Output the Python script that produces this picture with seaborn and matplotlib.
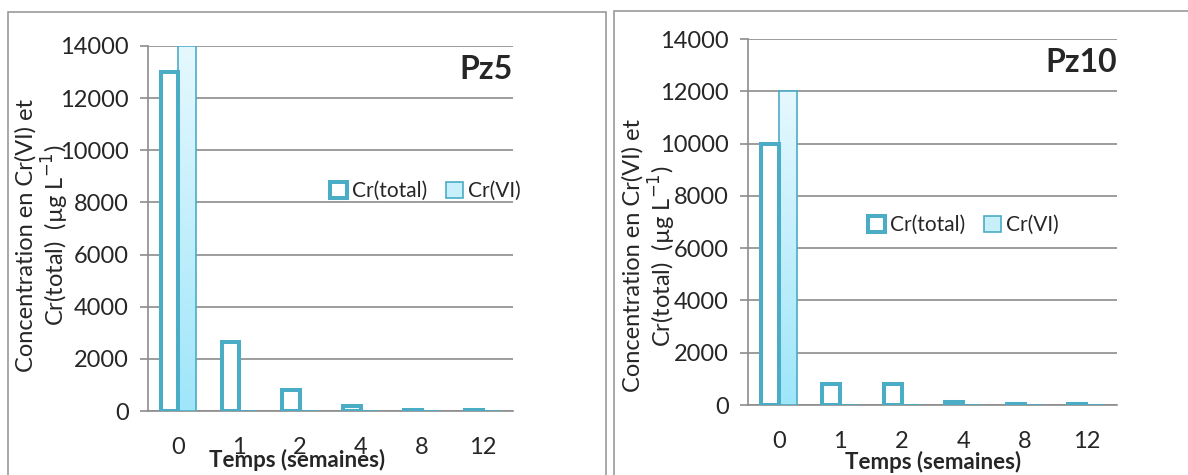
import numpy as np
import pandas as pd
import seaborn as sns
import matplotlib.pyplot as plt
from matplotlib.patches import Patch, Rectangle

weeks = ['0', '1', '2', '4', '8', '12']
series = ['Cr(total)', 'Cr(VI)']

pz5_total = [13000, 2650, 800, 200, 50, 30]
pz5_vi = [14000, 10, 10, 10, 10, 10]
pz10_total = [10000, 800, 800, 120, 50, 30]
pz10_vi = [12000, 10, 10, 10, 10, 10]

teal = '#4BACC6'
grid_col = '#8C8C8C'

sns.set_style('white')
plt.rcParams['font.family'] = ['Lato', 'DejaVu Sans']

fig = plt.figure(figsize=(11.88, 4.75), dpi=100)

# panel frames
fig.patches.append(Rectangle((8 / 1188, -0.1), 598 / 1188, 1 - 12 / 475 + 0.1,
                             transform=fig.transFigure, fill=False, ec='#999999', lw=1.2))
fig.patches.append(Rectangle((614 / 1188, -0.1), 600 / 1188, 1 - 11 / 475 + 0.1,
                             transform=fig.transFigure, fill=False, ec='#999999', lw=1.2))

ax1 = fig.add_axes([148 / 1188, 64 / 475, 365 / 1188, 365 / 475])
ax2 = fig.add_axes([748 / 1188, 70 / 475, 369 / 1188, 366 / 475])

grad = np.linspace(0, 1, 256).reshape(-1, 1)
cmap = plt.matplotlib.colors.LinearSegmentedColormap.from_list('g', ['#9FE6FA', '#E6F8FE'])


def draw(ax, total, vi, title, ylab_px, xlab_px, leg_xy):
    df = pd.DataFrame({
        'Temps': weeks * 2,
        'serie': [series[0]] * len(weeks) + [series[1]] * len(weeks),
        'val': total + vi,
    })
    sns.barplot(data=df, x='Temps', y='val', hue='serie', order=weeks, hue_order=series,
                width=0.58, palette=['white', '#C8F0FB'], legend=False, ax=ax, zorder=3)
    for p in ax.containers[0]:
        p.set_edgecolor(teal)
        p.set_linewidth(2.9)
        p.set_facecolor('white')
    for p in ax.containers[1]:
        p.set_edgecolor(teal)
        p.set_linewidth(1.2)
        p.set_facecolor('none')
        x, w, h = p.get_x(), p.get_width(), p.get_height()
        im = ax.imshow(grad, extent=[x, x + w, 0, h], origin='lower', aspect='auto',
                       cmap=cmap, zorder=2.9)
        im.set_clip_path(p)

    ax.set_xlim(-0.5, 5.5)
    ax.set_ylim(0, 14000)
    ax.set_yticks(np.arange(0, 14001, 2000))
    ax.set_xticks(range(6))
    ax.set_xticklabels(weeks)
    ax.set_xticks(np.arange(-0.5, 6, 1), minor=True)
    ax.tick_params(axis='x', which='major', length=0, labelsize=17, pad=19)
    ax.tick_params(axis='x', which='minor', length=8, width=1.2, color=grid_col, direction='out')
    ax.tick_params(axis='y', length=6, width=1.2, color=grid_col, direction='out',
                   labelsize=17, pad=8, left=True)
    ax.grid(axis='y', color=grid_col, lw=1.2, zorder=0)
    ax.set_axisbelow(True)
    for s in ['top', 'right']:
        ax.spines[s].set_visible(False)
    for s in ['left', 'bottom']:
        ax.spines[s].set_color(grid_col)
        ax.spines[s].set_linewidth(1.2)
    ax.set_xlabel('')
    ax.set_ylabel('')

    fig.text(ylab_px[0] / 1188, 1 - ylab_px[1] / 475,
             'Concentration en Cr(VI) et\nCr(total)  (µg L$^{-1}$)', rotation=90,
             ha='center', va='center', multialignment='center', fontsize=17,
             linespacing=1.1)
    fig.text(xlab_px[0] / 1188, 1 - xlab_px[1] / 475, 'Temps (semaines)',
             ha='center', va='center', fontsize=16, fontweight='bold')
    ax.text(1.0, 0.935, title, transform=ax.transAxes, ha='right', va='center',
            fontsize=23, fontweight='bold')

    handles = [Patch(facecolor='white', edgecolor=teal, lw=2.9),
               Patch(facecolor='#C8F0FB', edgecolor=teal, lw=1.2)]
    fig.legend(handles, series, loc='center left', bbox_to_anchor=leg_xy, ncol=2,
               frameon=False, fontsize=15, handlelength=0.8, handleheight=0.8,
               handletextpad=0.25, columnspacing=0.9, borderpad=0, borderaxespad=0)


draw(ax1, pz5_total, pz5_vi, 'Pz5', (43, 235), (297, 460), (330 / 1188, 1 - 191 / 475))
draw(ax2, pz10_total, pz10_vi, 'Pz10', (650, 256), (933, 462), (868 / 1188, 1 - 225 / 475))

fig.savefig('out.png', dpi=100)
